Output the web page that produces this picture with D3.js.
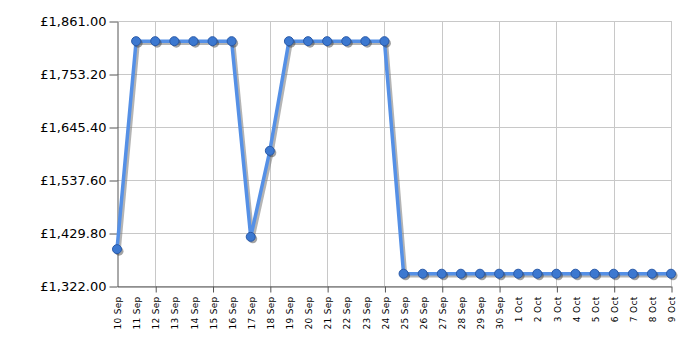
<!DOCTYPE html>
<html>
<head>
<meta charset="utf-8">
<style>
  body { margin: 0; background: #fff; }
  svg { display: block; }
  .grid line { stroke: #c8c8c8; stroke-width: 1; }
  .axis path, .axis line { stroke: #555; }
  .axis text { fill: #000; font-family: "DejaVu Sans", Verdana, sans-serif; }
</style>
</head>
<body>
<div id="chart"></div>
<script src="https://d3js.org/d3.v7.min.js"></script>
<script>
const dates = ["10 Sep","11 Sep","12 Sep","13 Sep","14 Sep","15 Sep","16 Sep","17 Sep","18 Sep","19 Sep",
  "20 Sep","21 Sep","22 Sep","23 Sep","24 Sep","25 Sep","26 Sep","27 Sep","28 Sep","29 Sep","30 Sep",
  "1 Oct","2 Oct","3 Oct","4 Oct","5 Oct","6 Oct","7 Oct","8 Oct","9 Oct"];
const prices = [1397, 1820, 1820, 1820, 1820, 1820, 1820, 1422, 1597, 1820,
  1820, 1820, 1820, 1820, 1820, 1347, 1347, 1347, 1347, 1347, 1347,
  1347, 1347, 1347, 1347, 1347, 1347, 1347, 1347, 1347];
const yTicks = [1322.00, 1429.80, 1537.60, 1645.40, 1753.20, 1861.00];
const xTickDates = ["12 Sep","15 Sep","18 Sep","21 Sep","24 Sep","27 Sep","30 Sep","3 Oct","6 Oct","9 Oct"];

const W = 700, H = 350;
const margin = {left: 117, right: 29, top: 21, bottom: 64};
const svg = d3.select('#chart').append('svg').attr('width', W).attr('height', H);

const x = d3.scalePoint().domain(dates).range([margin.left, W - margin.right]);
const y = d3.scaleLinear().domain([1322, 1861]).range([H - margin.bottom, margin.top]);

const fmt = v => '£' + d3.format(',.2f')(v);

// grid
const grid = svg.append('g').attr('class', 'grid');
grid.selectAll('.h').data(yTicks).enter().append('line')
  .attr('x1', margin.left).attr('x2', W - margin.right)
  .attr('y1', d => y(d) + 0.5).attr('y2', d => y(d) + 0.5);
grid.selectAll('.v').data(xTickDates).enter().append('line')
  .attr('y1', margin.top).attr('y2', H - margin.bottom)
  .attr('x1', d => Math.round(x(d)) + 0.5).attr('x2', d => Math.round(x(d)) + 0.5);

// axes
const yAxis = svg.append('g').attr('class', 'axis')
  .attr('transform', 'translate(' + (margin.left + 0.5) + ',0.5)')
  .call(d3.axisLeft(y).tickValues(yTicks).tickFormat(fmt).tickSize(8).tickSizeOuter(0).tickPadding(3));
yAxis.attr('font-family', null);
yAxis.selectAll('text').style('font-size', '13px');

const xAxis = svg.append('g').attr('class', 'axis')
  .attr('transform', 'translate(0.5,' + (H - margin.bottom + 0.5) + ')')
  .call(d3.axisBottom(x).tickSizeOuter(0).tickSize(0).tickPadding(0));
xAxis.attr('font-family', null);
xAxis.selectAll('.tick line').remove();
xAxis.selectAll('text')
  .style('font-size', '9px')
  .style('letter-spacing', '0.3px')
  .attr('text-anchor', 'end')
  .attr('transform', 'rotate(-90)')
  .attr('x', -10).attr('y', 0).attr('dy', '0.35em');
xAxis.selectAll('.tick').filter(d => xTickDates.includes(d))
  .append('line').attr('y2', 6).attr('stroke', '#555');

// line with shadow
const line = d3.line().x((d, i) => x(dates[i])).y(d => y(d));
svg.append('path').datum(prices)
  .attr('d', line).attr('fill', 'none')
  .attr('stroke', '#777').attr('stroke-opacity', 0.55).attr('stroke-width', 3.5)
  .attr('transform', 'translate(2,2)');
svg.append('path').datum(prices)
  .attr('d', line).attr('fill', 'none')
  .attr('stroke', '#5590e6').attr('stroke-width', 3.5).attr('stroke-linejoin', 'round');

// points
svg.selectAll('.shadow').data(prices).enter().append('circle')
  .attr('cx', (d, i) => x(dates[i]) + 2).attr('cy', d => y(d) + 2).attr('r', 4.5)
  .attr('fill', '#333').attr('fill-opacity', 0.45);
svg.selectAll('.pt').data(prices).enter().append('circle')
  .attr('cx', (d, i) => x(dates[i])).attr('cy', d => y(d)).attr('r', 4.5)
  .attr('fill', '#3c78d0').attr('stroke', '#2a5aa8').attr('stroke-width', 1);
</script>
</body>
</html>
